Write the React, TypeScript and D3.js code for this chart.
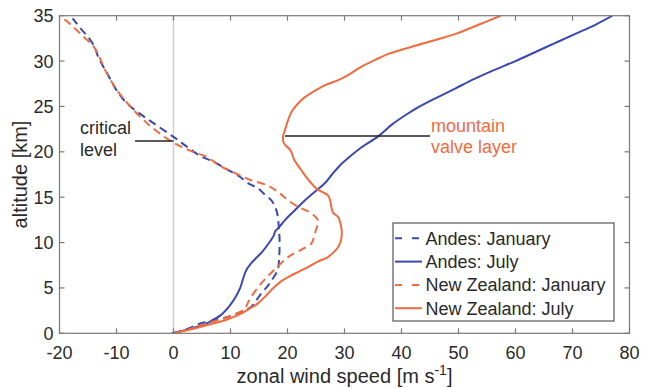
import React from "react";
import * as d3 from "d3";

// altitude [km] and zonal wind [m/s] pairs
const andesJanAlt = [0, 0.5, 1.1, 1.5, 1.8, 2.4, 2.9, 3.6, 4.4, 5.2, 5.9, 7.0, 8.0, 9.2, 10.5, 11.4, 12.3, 13.2, 14.0, 14.7, 15.3, 16.0, 16.5, 17.4, 18.2, 18.9, 19.5, 20.5, 21.65, 23.5, 25.3, 26.8, 28.6, 29.6, 30.6, 31.5, 32.5, 33.6, 34.7];
const andesJanVal = [0, 2.5, 4.8, 7.5, 9.5, 12, 13.6, 14.5, 15.4, 16.5, 17.3, 18.3, 18.5, 18.6, 18.6, 18.5, 18.4, 18.2, 17.8, 17.1, 16.0, 14.8, 13.2, 11.3, 9.0, 7.1, 4.8, 2.5, 0, -4.3, -8.1, -10.0, -11.6, -12.5, -13.3, -13.8, -14.8, -16.3, -17.7];

const andesJulAlt = [0, 0.5, 1.0, 1.5, 2.0, 3.0, 4.0, 5.0, 6.0, 7.0, 7.7, 8.3, 9.0, 10.0, 10.8, 11.2, 11.6, 12.5, 13.5, 14.5, 15.5, 16.5, 17.5, 18.5, 19.5, 20.5, 21.7, 23.0, 24.0, 25.0, 26.0, 27.0, 28.0, 29.0, 30.0, 31.0, 32.0, 33.0, 34.0, 35.0];
const andesJulVal = [-0.3, 3, 5.5, 7, 8.3, 9.8, 10.9, 11.7, 12.2, 12.8, 13.6, 14.5, 15.6, 16.8, 17.6, 17.8, 18.4, 19.6, 21.2, 22.8, 24.6, 26.5, 27.8, 29.2, 31.0, 33.0, 35.9, 38.3, 40.6, 43.2, 46.3, 49.5, 52.7, 56.2, 60.0, 63.5, 67.0, 70.5, 74.0, 77.0];

const nzJanAlt = [0, 0.4, 0.9, 1.3, 1.8, 2.6, 3.3, 4.0, 5.5, 7.0, 8.4, 9.2, 9.9, 10.5, 11.4, 12.3, 12.7, 13.3, 13.9, 14.7, 15.5, 16.3, 16.9, 17.6, 18.5, 19.4, 20.1, 21.0, 22.8, 25.0, 26.8, 29.0, 30.3, 31.6, 32.7, 34.0, 35.0];
const nzJanVal = [0, 2.5, 4.8, 7, 9.5, 12.4, 13, 13.6, 15.4, 17.7, 20.1, 22.4, 24.2, 24.6, 25.0, 25.4, 25.1, 24.0, 22.0, 20.0, 18.5, 16.5, 13.5, 11.0, 8.0, 6.0, 3.0, 0, -4.0, -7.6, -9.9, -12.0, -12.9, -14.0, -15.8, -18.0, -19.9];

const nzJulAlt = [0, 0.2, 0.5, 1.1, 1.5, 2.0, 2.7, 3.3, 4.2, 5.1, 5.7, 6.2, 6.8, 7.3, 7.9, 8.4, 9.0, 9.5, 10.3, 11.4, 12.3, 12.8, 13.3, 13.9, 14.6, 15.2, 15.8, 16.1, 17.2, 18.0, 19.1, 20.2, 20.9, 21.65, 22.3, 23.5, 24.5, 25.3, 26.0, 26.8, 27.4, 27.9, 28.6, 29.4, 30.1, 30.8, 31.9, 33.0, 34.0, 35.0];
const nzJulVal = [0, 1.3, 3.5, 7.1, 9.3, 11.3, 13.3, 14.8, 16.3, 17.7, 18.8, 20.1, 22.0, 23.6, 25.3, 27.1, 28.2, 28.9, 29.4, 29.5, 29.2, 28.9, 28.0, 27.7, 27.5, 27.1, 25.4, 24.8, 23.3, 22.4, 21.2, 20.5, 19.4, 19.2, 19.5, 20.1, 20.8, 21.8, 23.0, 25.0, 26.8, 28.9, 31.0, 33.0, 35.3, 37.7, 43.6, 49.5, 53.5, 57.4];

const xTicks = [-20, -10, 0, 10, 20, 30, 40, 50, 60, 70, 80];
const yTicks = [0, 5, 10, 15, 20, 25, 30, 35];

const seriesNames = ["Andes: January", "Andes: July", "New Zealand: January", "New Zealand: July"];

const BLUE = "#3a49b0";
const ORANGE = "#f26b3e";

export default function App() {
  const W = 648, H = 388;
  const left = 59.5, right = 629.5, top = 15.7, bottom = 333.3;
  const x = d3.scaleLinear().domain([-20, 80]).range([left, right]);
  const y = d3.scaleLinear().domain([0, 35]).range([bottom, top]);
  const line = d3.line<[number, number]>()
    .x((d) => x(d[1]))
    .y((d) => y(d[0]))
    .curve(d3.curveCatmullRom.alpha(0.5));
  const zip = (a: number[], v: number[]) => a.map((ai, i) => [ai, v[i]] as [number, number]);
  const series = [
    { name: seriesNames[0], data: zip(andesJanAlt, andesJanVal), color: BLUE, dash: "8,5" },
    { name: seriesNames[1], data: zip(andesJulAlt, andesJulVal), color: BLUE, dash: "" },
    { name: seriesNames[2], data: zip(nzJanAlt, nzJanVal), color: ORANGE, dash: "8,5" },
    { name: seriesNames[3], data: zip(nzJulAlt, nzJulVal), color: ORANGE, dash: "" },
  ];
  const font = "'Liberation Sans', Arial, Helvetica, sans-serif";
  const axisColor = "#7a7a7a";
  const textColor = "#2a2a2a";
  const tickLen = 5;
  const fs = 18;
  const lfs = 20;

  const legX = 393, legY = 223, legW = 221, legH = 98, rowH = 23.3;

  return (
    <svg width={W} height={H} style={{ position: "absolute", left: 0, top: 0, background: "#fff" }} fontFamily={font}>
      <defs>
        <clipPath id="plot">
          <rect x={left} y={top} width={right - left} height={bottom - top} />
        </clipPath>
      </defs>
      {/* zero line */}
      <line x1={x(0)} x2={x(0)} y1={top} y2={bottom} stroke="#cfcfcf" strokeWidth={1.5} />
      {/* series */}
      <g clipPath="url(#plot)">
        {series.map((s) => (
          <path key={s.name} d={line(s.data) || ""} fill="none" stroke={s.color} strokeWidth={2} strokeDasharray={s.dash || undefined} />
        ))}
      </g>
      {/* axes box */}
      <rect x={left} y={top} width={right - left} height={bottom - top} fill="none" stroke={axisColor} strokeWidth={1.2} />
      {xTicks.map((t) => (
        <g key={"x" + t}>
          <line x1={x(t)} x2={x(t)} y1={bottom} y2={bottom - tickLen} stroke={axisColor} strokeWidth={1.2} />
          <line x1={x(t)} x2={x(t)} y1={top} y2={top + tickLen} stroke={axisColor} strokeWidth={1.2} />
          <text x={x(t)} y={358.5} textAnchor="middle" fontSize={fs} fill={textColor}>{t}</text>
        </g>
      ))}
      {yTicks.map((t) => (
        <g key={"y" + t}>
          <line x1={left} x2={left + tickLen} y1={y(t)} y2={y(t)} stroke={axisColor} strokeWidth={1.2} />
          <line x1={right} x2={right - tickLen} y1={y(t)} y2={y(t)} stroke={axisColor} strokeWidth={1.2} />
          <text x={53.5} y={y(t)} dy="0.36em" textAnchor="end" fontSize={fs} fill={textColor}>{t}</text>
        </g>
      ))}
      {/* axis labels */}
      <text x={(left + right) / 2} y={383} textAnchor="middle" fontSize={lfs} fill={textColor}>
        zonal wind speed [m s<tspan dy={-8} fontSize={14}>-1</tspan><tspan dy={8}>]</tspan>
      </text>
      <text transform={`translate(26.5,${(top + bottom) / 2}) rotate(-90)`} textAnchor="middle" fontSize={lfs} fill={textColor}>
        altitude [km]
      </text>
      {/* annotations */}
      <line x1={x(-6.75)} x2={x(0)} y1={y(21.19)} y2={y(21.19)} stroke="#222" strokeWidth={1.5} />
      <text x={x(-16.4)} y={134} fontSize={fs} fill={textColor}>critical</text>
      <text x={x(-16.4)} y={156} fontSize={fs} fill={textColor}>level</text>
      <line x1={x(19.56)} x2={x(45)} y1={y(21.73)} y2={y(21.73)} stroke="#222" strokeWidth={1.5} />
      <text x={431} y={132} fontSize={fs} fill={ORANGE}>mountain</text>
      <text x={431} y={153} fontSize={fs} fill={ORANGE}>valve layer</text>
      {/* legend */}
      <rect x={legX} y={legY} width={legW} height={legH} fill="#fff" stroke="#555" strokeWidth={1.2} />
      {series.map((s, i) => {
        const cy = legY + 15.3 + i * rowH;
        return (
          <g key={"leg" + i}>
            <line x1={legX + 2} x2={legX + 29} y1={cy} y2={cy} stroke={s.color} strokeWidth={2} strokeDasharray={s.dash ? "7,10" : undefined} />
            <text x={legX + 32.5} y={cy} dy="0.36em" fontSize={fs} fill={textColor}>{s.name}</text>
          </g>
        );
      })}
    </svg>
  );
}
